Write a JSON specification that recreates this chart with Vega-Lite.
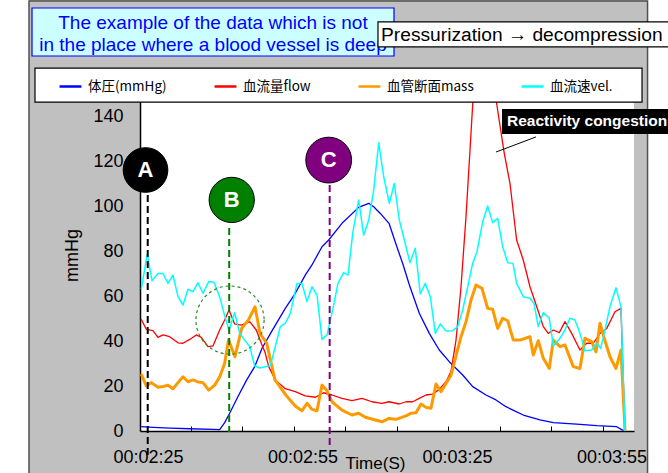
{
  "$schema": "https://vega.github.io/schema/vega-lite/v6.json",
  "autosize": {"type": "none"},
  "width": 494,
  "height": 360,
  "padding": {"left": 140, "top": 71, "right": 34, "bottom": 42},
  "background": "#c0c0c0",
  "config": {
    "view": {"fill": "#ffffff", "stroke": null},
    "font": "Liberation Sans"
  },
  "datasets": {
    "series": [
      {"s":"体圧(mmHg)","t":143.70,"v":1.9},{"s":"体圧(mmHg)","t":145.97,"v":1.6},{"s":"体圧(mmHg)","t":149.3,"v":1.3},{"s":"体圧(mmHg)","t":153.1,"v":1.0},{"s":"体圧(mmHg)","t":157.62,"v":0.7},{"s":"体圧(mmHg)","t":158.92,"v":0.6},{"s":"体圧(mmHg)","t":159.89,"v":3.7},{"s":"体圧(mmHg)","t":160.86,"v":7.9},{"s":"体圧(mmHg)","t":162.48,"v":15.3},{"s":"体圧(mmHg)","t":164.17,"v":22.7},{"s":"体圧(mmHg)","t":165.72,"v":28.6},{"s":"体圧(mmHg)","t":167.14,"v":36.8},{"s":"体圧(mmHg)","t":169.08,"v":44.5},{"s":"体圧(mmHg)","t":171.66,"v":54.5},{"s":"体圧(mmHg)","t":173.60,"v":61.2},{"s":"体圧(mmHg)","t":175.54,"v":69.3},{"s":"体圧(mmHg)","t":176.84,"v":73.8},{"s":"体圧(mmHg)","t":178.79,"v":81.9},{"s":"体圧(mmHg)","t":180.09,"v":84.9},{"s":"体圧(mmHg)","t":182.67,"v":92.3},{"s":"体圧(mmHg)","t":185.91,"v":99.4},{"s":"体圧(mmHg)","t":187.86,"v":101.2},{"s":"体圧(mmHg)","t":188.83,"v":99.7},{"s":"体圧(mmHg)","t":190.11,"v":96.7},{"s":"体圧(mmHg)","t":191.80,"v":92.3},{"s":"体圧(mmHg)","t":193.16,"v":83},{"s":"体圧(mmHg)","t":194.52,"v":74},{"s":"体圧(mmHg)","t":195.74,"v":65},{"s":"体圧(mmHg)","t":197.68,"v":52.3},{"s":"体圧(mmHg)","t":199.62,"v":43.4},{"s":"体圧(mmHg)","t":201.56,"v":36},{"s":"体圧(mmHg)","t":203.50,"v":30.8},{"s":"体圧(mmHg)","t":206.11,"v":24.9},{"s":"体圧(mmHg)","t":208.05,"v":19.7},{"s":"体圧(mmHg)","t":210.63,"v":16},{"s":"体圧(mmHg)","t":212.57,"v":13.8},{"s":"体圧(mmHg)","t":214.51,"v":10.8},{"s":"体圧(mmHg)","t":215.87,"v":9.3},{"s":"体圧(mmHg)","t":217.87,"v":7.1},{"s":"体圧(mmHg)","t":221.11,"v":4.9},{"s":"体圧(mmHg)","t":223.70,"v":3.7},{"s":"体圧(mmHg)","t":228.24,"v":3.1},{"s":"体圧(mmHg)","t":232.13,"v":2.4},{"s":"体圧(mmHg)","t":236.01,"v":1.9},{"s":"体圧(mmHg)","t":236.98,"v":0.6},{"s":"体圧(mmHg)","t":237.62,"v":0},
      {"s":"血流量flow","t":143.70,"v":49.6},{"s":"血流量flow","t":144.67,"v":45.2},{"s":"血流量flow","t":145.97,"v":44.6},{"s":"血流量flow","t":146.94,"v":41.6},{"s":"血流量flow","t":147.91,"v":42.7},{"s":"血流量flow","t":149.21,"v":41.9},{"s":"血流量flow","t":150.83,"v":39.2},{"s":"血流量flow","t":151.80,"v":39},{"s":"血流量flow","t":153.10,"v":40.7},{"s":"血流量flow","t":154.38,"v":42.7},{"s":"血流量flow","t":155.35,"v":41.6},{"s":"血流量flow","t":156.65,"v":37.5},{"s":"血流量flow","t":157.62,"v":37.8},{"s":"血流量flow","t":158.92,"v":44.9},{"s":"血流量flow","t":159.89,"v":49.3},{"s":"血流量flow","t":160.73,"v":53.8},{"s":"血流量flow","t":161.83,"v":47.6},{"s":"血流量flow","t":163.12,"v":47.1},{"s":"血流量flow","t":164.75,"v":48.6},{"s":"血流量flow","t":166.03,"v":44.9},{"s":"血流量flow","t":167.00,"v":39},{"s":"血流量flow","t":167.72,"v":35},{"s":"血流量flow","t":168.44,"v":28.6},{"s":"血流量flow","t":169.72,"v":22.7},{"s":"血流量flow","t":171.66,"v":18.8},{"s":"血流量flow","t":173.60,"v":17.5},{"s":"血流量flow","t":175.54,"v":15.6},{"s":"血流量flow","t":177.49,"v":15},{"s":"血流量flow","t":179.12,"v":17},{"s":"血流量flow","t":180.73,"v":16},{"s":"血流量flow","t":182.67,"v":14.5},{"s":"血流量flow","t":184.61,"v":13.5},{"s":"血流量flow","t":186.55,"v":14.5},{"s":"血流量flow","t":188.50,"v":13},{"s":"血流量flow","t":190.44,"v":12.3},{"s":"血流量flow","t":191.80,"v":13},{"s":"血流量flow","t":193.80,"v":12},{"s":"血流量flow","t":195.10,"v":13},{"s":"血流量flow","t":196.40,"v":13},{"s":"血流量flow","t":197.68,"v":14.5},{"s":"血流量flow","t":198.98,"v":16},{"s":"血流量flow","t":200.28,"v":16.4},{"s":"血流量flow","t":201.56,"v":18.5},{"s":"血流量flow","t":202.86,"v":21.9},{"s":"血流量flow","t":203.83,"v":26.4},{"s":"血流量flow","t":204.81,"v":40.4},{"s":"血流量flow","t":205.78,"v":64.1},{"s":"血流量flow","t":206.75,"v":95.2},{"s":"血流量flow","t":207.72,"v":132.3},{"s":"血流量flow","t":208.69,"v":170},{"s":"血流量flow","t":209.66,"v":195},{"s":"血流量flow","t":210.83,"v":178},{"s":"血流量flow","t":211.80,"v":160},{"s":"血流量flow","t":212.67,"v":146},{"s":"血流量flow","t":214.18,"v":123.4},{"s":"血流量flow","t":215.29,"v":110},{"s":"血流量flow","t":216.58,"v":84.9},{"s":"血流量flow","t":217.87,"v":76},{"s":"血流量flow","t":219.17,"v":64.1},{"s":"血流量flow","t":220.47,"v":55.3},{"s":"血流量flow","t":221.76,"v":46.4},{"s":"血流量flow","t":222.73,"v":43.4},{"s":"血流量flow","t":223.70,"v":44.9},{"s":"血流量flow","t":224.86,"v":43.7},{"s":"血流量flow","t":225.97,"v":48.6},{"s":"血流量flow","t":227.27,"v":43.4},{"s":"血流量flow","t":228.88,"v":36},{"s":"血流量flow","t":230.18,"v":39},{"s":"血流量flow","t":231.47,"v":39},{"s":"血流量flow","t":232.77,"v":43.4},{"s":"血流量flow","t":234.07,"v":45.6},{"s":"血流量flow","t":235.68,"v":53},{"s":"血流量flow","t":236.84,"v":54.5},{"s":"血流量flow","t":237.62,"v":0},
      {"s":"血管断面mass","t":143.70,"v":25.3},{"s":"血管断面mass","t":144.67,"v":20},{"s":"血管断面mass","t":145.64,"v":21.5},{"s":"血管断面mass","t":146.94,"v":19.4},{"s":"血管断面mass","t":147.91,"v":19.8},{"s":"血管断面mass","t":148.88,"v":20.3},{"s":"血管断面mass","t":149.85,"v":18.8},{"s":"血管断面mass","t":150.83,"v":21.5},{"s":"血管断面mass","t":151.80,"v":24.1},{"s":"血管断面mass","t":152.77,"v":21.9},{"s":"血管断面mass","t":153.74,"v":22.7},{"s":"血管断面mass","t":154.71,"v":21.8},{"s":"血管断面mass","t":155.68,"v":21.5},{"s":"血管断面mass","t":156.79,"v":18.2},{"s":"血管断面mass","t":157.95,"v":20.4},{"s":"血管断面mass","t":158.92,"v":24},{"s":"血管断面mass","t":159.89,"v":30.1},{"s":"血管断面mass","t":160.63,"v":40.5},{"s":"血管断面mass","t":161.89,"v":33},{"s":"血管断面mass","t":163.19,"v":45.6},{"s":"血管断面mass","t":164.48,"v":49.3},{"s":"血管断面mass","t":165.78,"v":55.2},{"s":"血管断面mass","t":166.75,"v":43.4},{"s":"血管断面mass","t":168.05,"v":39},{"s":"血管断面mass","t":169.66,"v":22.7},{"s":"血管断面mass","t":171.99,"v":15.3},{"s":"血管断面mass","t":173.60,"v":11.1},{"s":"血管断面mass","t":174.90,"v":9},{"s":"血管断面mass","t":175.87,"v":12.3},{"s":"血管断面mass","t":176.84,"v":9.6},{"s":"血管断面mass","t":177.82,"v":9},{"s":"血管断面mass","t":178.79,"v":20.4},{"s":"血管断面mass","t":179.76,"v":17.9},{"s":"血管断面mass","t":180.73,"v":13},{"s":"血管断面mass","t":182.67,"v":9.3},{"s":"血管断面mass","t":184.61,"v":7.1},{"s":"血管断面mass","t":185.91,"v":7.9},{"s":"血管断面mass","t":187.20,"v":6.1},{"s":"血管断面mass","t":189.14,"v":4.9},{"s":"血管断面mass","t":190.44,"v":4.1},{"s":"血管断面mass","t":191.80,"v":5.6},{"s":"血管断面mass","t":193.16,"v":5.2},{"s":"血管断面mass","t":195.10,"v":6.7},{"s":"血管断面mass","t":196.07,"v":7.9},{"s":"血管断面mass","t":197.04,"v":8.1},{"s":"血管断面mass","t":198.01,"v":12},{"s":"血管断面mass","t":198.98,"v":10.5},{"s":"血管断面mass","t":199.95,"v":10.1},{"s":"血管断面mass","t":200.92,"v":20.9},{"s":"血管断面mass","t":201.89,"v":17.5},{"s":"血管断面mass","t":203.83,"v":24.7},{"s":"血管断面mass","t":205.78,"v":41.9},{"s":"血管断面mass","t":206.75,"v":48.6},{"s":"血管断面mass","t":207.72,"v":58.2},{"s":"血管断面mass","t":208.69,"v":64.9},{"s":"血管断面mass","t":209.85,"v":63.4},{"s":"血管断面mass","t":210.96,"v":54.5},{"s":"血管断面mass","t":211.93,"v":54.1},{"s":"血管断面mass","t":212.90,"v":45.6},{"s":"血管断面mass","t":213.87,"v":50.1},{"s":"血管断面mass","t":214.85,"v":49},{"s":"血管断面mass","t":215.93,"v":40.4},{"s":"血管断面mass","t":217.23,"v":40.4},{"s":"血管断面mass","t":219.17,"v":41.9},{"s":"血管断面mass","t":219.81,"v":33.8},{"s":"血管断面mass","t":220.78,"v":40.1},{"s":"血管断面mass","t":221.76,"v":32.3},{"s":"血管断面mass","t":222.92,"v":27.8},{"s":"血管断面mass","t":223.70,"v":40.4},{"s":"血管断面mass","t":225.00,"v":37.5},{"s":"血管断面mass","t":225.97,"v":38.2},{"s":"血管断面mass","t":227.58,"v":28.6},{"s":"血管断面mass","t":228.88,"v":27.8},{"s":"血管断面mass","t":229.85,"v":41.2},{"s":"血管断面mass","t":231.16,"v":39.7},{"s":"血管断面mass","t":231.99,"v":35.2},{"s":"血管断面mass","t":232.77,"v":47.9},{"s":"血管断面mass","t":233.74,"v":40.1},{"s":"血管断面mass","t":234.71,"v":33},{"s":"血管断面mass","t":235.87,"v":27.8},{"s":"血管断面mass","t":236.84,"v":36},{"s":"血管断面mass","t":237.62,"v":0},
      {"s":"血流速vel.","t":143.70,"v":63},{"s":"血流速vel.","t":144.86,"v":78.7},{"s":"血流速vel.","t":145.78,"v":66.8},{"s":"血流速vel.","t":146.94,"v":70},{"s":"血流速vel.","t":147.91,"v":70},{"s":"血流速vel.","t":148.88,"v":65.6},{"s":"血流速vel.","t":149.85,"v":69.3},{"s":"血流速vel.","t":150.83,"v":59.7},{"s":"血流速vel.","t":151.80,"v":56},{"s":"血流速vel.","t":152.77,"v":63},{"s":"血流速vel.","t":153.74,"v":61.9},{"s":"血流速vel.","t":154.71,"v":65.9},{"s":"血流速vel.","t":155.68,"v":61.2},{"s":"血流速vel.","t":156.79,"v":66.4},{"s":"血流速vel.","t":157.82,"v":66.1},{"s":"血流速vel.","t":158.92,"v":59.7},{"s":"血流速vel.","t":159.76,"v":52.3},{"s":"血流速vel.","t":160.73,"v":44.9},{"s":"血流速vel.","t":161.83,"v":52.6},{"s":"血流速vel.","t":162.81,"v":43.4},{"s":"血流速vel.","t":163.78,"v":40.4},{"s":"血流速vel.","t":164.75,"v":37.5},{"s":"血流速vel.","t":165.72,"v":29},{"s":"血流速vel.","t":166.69,"v":28},{"s":"血流速vel.","t":167.72,"v":28.6},{"s":"血流速vel.","t":168.75,"v":29},{"s":"血流速vel.","t":169.72,"v":37.5},{"s":"血流速vel.","t":170.69,"v":46.4},{"s":"血流速vel.","t":171.66,"v":47.9},{"s":"血流速vel.","t":172.63,"v":52.3},{"s":"血流速vel.","t":173.93,"v":65.6},{"s":"血流速vel.","t":174.90,"v":65.6},{"s":"血流速vel.","t":175.87,"v":57.5},{"s":"血流速vel.","t":176.84,"v":64.1},{"s":"血流速vel.","t":177.82,"v":60.4},{"s":"血流速vel.","t":178.79,"v":40.7},{"s":"血流速vel.","t":179.76,"v":42.7},{"s":"血流速vel.","t":180.86,"v":53.8},{"s":"血流速vel.","t":181.89,"v":65.6},{"s":"血流速vel.","t":183.00,"v":70.4},{"s":"血流速vel.","t":183.83,"v":69.3},{"s":"血流速vel.","t":184.75,"v":87.8},{"s":"血流速vel.","t":185.91,"v":102.7},{"s":"血流速vel.","t":186.88,"v":87.1},{"s":"血流速vel.","t":187.86,"v":93.8},{"s":"血流速vel.","t":188.83,"v":107.1},{"s":"血流速vel.","t":189.80,"v":128.1},{"s":"血流速vel.","t":190.77,"v":113},{"s":"血流速vel.","t":191.86,"v":101.2},{"s":"血流速vel.","t":192.83,"v":110},{"s":"血流速vel.","t":193.80,"v":93.8},{"s":"血流速vel.","t":194.77,"v":84.9},{"s":"血流速vel.","t":195.87,"v":74.8},{"s":"血流速vel.","t":196.90,"v":81.2},{"s":"血流速vel.","t":197.87,"v":60.9},{"s":"血流速vel.","t":198.84,"v":65.6},{"s":"血流速vel.","t":199.82,"v":59.7},{"s":"血流速vel.","t":200.79,"v":43.4},{"s":"血流速vel.","t":201.76,"v":47.6},{"s":"血流速vel.","t":202.86,"v":44.4},{"s":"血流速vel.","t":204.16,"v":44.6},{"s":"血流速vel.","t":205.14,"v":46.4},{"s":"血流速vel.","t":206.11,"v":53.8},{"s":"血流速vel.","t":207.08,"v":64.1},{"s":"血流速vel.","t":208.05,"v":74.5},{"s":"血流速vel.","t":208.88,"v":79.7},{"s":"血流速vel.","t":209.99,"v":93},{"s":"血流速vel.","t":210.96,"v":100},{"s":"血流速vel.","t":211.93,"v":92.6},{"s":"血流速vel.","t":212.90,"v":94.5},{"s":"血流速vel.","t":213.87,"v":81.9},{"s":"血流速vel.","t":214.85,"v":74.8},{"s":"血流速vel.","t":215.87,"v":74.5},{"s":"血流速vel.","t":216.58,"v":65.6},{"s":"血流速vel.","t":217.87,"v":59.7},{"s":"血流速vel.","t":219.17,"v":59},{"s":"血流速vel.","t":219.95,"v":56.7},{"s":"血流速vel.","t":220.78,"v":46.4},{"s":"血流速vel.","t":221.76,"v":52.6},{"s":"血流速vel.","t":222.92,"v":50.1},{"s":"血流速vel.","t":223.70,"v":37.8},{"s":"血流速vel.","t":225.00,"v":41.2},{"s":"血流速vel.","t":225.97,"v":44.9},{"s":"血流速vel.","t":226.94,"v":50.1},{"s":"血流速vel.","t":227.91,"v":49.3},{"s":"血流速vel.","t":228.88,"v":43.4},{"s":"血流速vel.","t":229.85,"v":35.7},{"s":"血流速vel.","t":231.16,"v":36},{"s":"血流速vel.","t":232.13,"v":39},{"s":"血流速vel.","t":232.90,"v":36.7},{"s":"血流速vel.","t":233.74,"v":44.9},{"s":"血流速vel.","t":234.71,"v":55.3},{"s":"血流速vel.","t":235.87,"v":63.7},{"s":"血流速vel.","t":236.84,"v":55.3},{"s":"血流速vel.","t":237.62,"v":0}
    ],
    "one": [{}]
  },
  "layer": [
    {
      "data": {"name": "one"},
      "mark": {"type": "rect", "fill": "#ffffff", "clip": false},
      "encoding": {
        "x": {"datum": 100, "type": "quantitative", "scale": {"domain": [143.45, 239.37], "nice": false, "zero": false}},
        "x2": {"datum": 121.9},
        "y": {"datum": -40, "type": "quantitative"},
        "y2": {"datum": 200}
      }
    },
    {
      "data": {"name": "one"},
      "mark": {"type": "rect", "fill": "#ffffff", "clip": false},
      "encoding": {
        "x": {"datum": 242.0, "type": "quantitative"},
        "x2": {"datum": 260},
        "y": {"datum": -40, "type": "quantitative"},
        "y2": {"datum": 200}
      }
    },
    {
      "data": {"name": "one"},
      "mark": {"type": "rect", "fill": null, "stroke": "#505050", "strokeWidth": 1.5, "clip": false},
      "encoding": {
        "x": {"datum": 121.9, "type": "quantitative"},
        "x2": {"datum": 242.0},
        "y": {"datum": -25, "type": "quantitative"},
        "y2": {"datum": 191.1}
      }
    },
    {
      "data": {"name": "series"},
      "transform": [{"filter": "datum.s === '体圧(mmHg)' || datum.s === '血流量flow'"}],
      "mark": {"type": "line", "clip": true, "strokeJoin": "round", "strokeWidth": 1.3},
      "encoding": {
        "x": {
          "field": "t", "type": "quantitative", "title": "Time(S)",
          "scale": {"domain": [143.45, 239.37], "nice": false, "zero": false},
          "axis": {
            "values": [145, 153.35, 163.35, 173.35, 175, 183.35, 193.35, 203.35, 205, 213.35, 223.35, 233.35, 235],
            "labelExpr": "datum.value % 10 == 5 ? '00:0' + floor(datum.value/60) + ':' + (datum.value % 60 < 10 ? '0' : '') + (datum.value % 60) : ''",
            "labelOverlap": false,
            "labelFontSize": 18, "labelColor": "#000000", "labelFont": "Liberation Sans",
            "labelPadding": 22,
            "tickSize": -5, "tickColor": "#000000", "tickWidth": 1,
            "tickOpacity": {"condition": {"test": "datum.value % 10 == 5", "value": 0}, "value": 1},
            "domainColor": "#000000", "domainWidth": 1.5,
            "grid": false,
            "titleFontSize": 17, "titleFontWeight": "normal", "titleColor": "#000000",
            "titleX": 235, "titleY": 32, "titleBaseline": "middle", "titleAlign": "center"
          }
        },
        "y": {
          "field": "v", "type": "quantitative", "title": "mmHg",
          "scale": {"domain": [0, 160], "nice": false},
          "axis": {
            "values": [0, 20, 40, 60, 80, 100, 120, 140],
            "labelFontSize": 18, "labelColor": "#000000", "labelFont": "Liberation Sans",
            "ticks": false, "labelPadding": 17,
            "domainColor": "#000000", "domainWidth": 1.5,
            "gridColor": "#c4c4c4", "gridWidth": 1.3,
            "titleFontSize": 18, "titleFontWeight": "normal", "titleColor": "#000000",
            "titleX": -68, "titleY": 184, "titleBaseline": "middle", "titleAlign": "center"
          }
        },
        "color": {
          "field": "s", "type": "nominal",
          "scale": {"domain": ["体圧(mmHg)", "血流量flow", "血管断面mass", "血流速vel."], "range": ["#0000ff", "#ff0000", "#ff9900", "#00ffff"]},
          "legend": {
            "title": null, "orient": "none", "direction": "horizontal", "columns": 4,
            "legendX": -82, "legendY": 3,
            "columnPadding": 42, "padding": 0,
            "symbolType": "stroke", "symbolSize": 480, "symbolStrokeWidth": 2.5,
            "labelFont": "Noto Sans CJK JP", "labelFontSize": 13.5, "labelColor": "#000000",
            "labelOffset": 5
          }
        }
      }
    },
    {
      "data": {"name": "series"},
      "transform": [{"filter": "datum.s === '血管断面mass'"}],
      "mark": {"type": "line", "clip": true, "strokeJoin": "round", "strokeWidth": 3},
      "encoding": {
        "x": {"field": "t", "type": "quantitative", "title": "Time(S)"},
        "y": {"field": "v", "type": "quantitative", "title": "mmHg"},
        "color": {"field": "s", "type": "nominal"}
      }
    },
    {
      "data": {"name": "series"},
      "transform": [{"filter": "datum.s === '血流速vel.'"}],
      "mark": {"type": "line", "clip": true, "strokeJoin": "round", "strokeWidth": 1.5},
      "encoding": {
        "x": {"field": "t", "type": "quantitative", "title": "Time(S)"},
        "y": {"field": "v", "type": "quantitative", "title": "mmHg"},
        "color": {"field": "s", "type": "nominal"}
      }
    },
    {
      "data": {"name": "one"},
      "mark": {"type": "rect", "fill": "#ffffff", "stroke": "#000000", "strokeWidth": 1.2, "clip": false},
      "encoding": {
        "x": {"datum": 123.06, "type": "quantitative"},
        "x2": {"datum": 240.93},
        "y": {"datum": 146.2, "type": "quantitative"},
        "y2": {"datum": 161.3}
      }
    },
    {
      "data": {"name": "one"},
      "mark": {"type": "rect", "fill": "#ccffff", "stroke": "#0000ff", "strokeWidth": 1.2, "clip": false},
      "encoding": {
        "x": {"datum": 122.48, "type": "quantitative"},
        "x2": {"datum": 192.77},
        "y": {"datum": 166.67, "type": "quantitative"},
        "y2": {"datum": 188.0}
      }
    },
    {
      "data": {"name": "one"},
      "mark": {"type": "text", "fontSize": 19, "color": "#0000ff", "align": "center", "baseline": "middle", "font": "Liberation Sans", "clip": false},
      "encoding": {
        "x": {"datum": 157.62, "type": "quantitative"},
        "y": {"datum": 181.3, "type": "quantitative"},
        "text": {"value": "The example of the data which is not"}
      }
    },
    {
      "data": {"name": "one"},
      "mark": {"type": "text", "fontSize": 19, "color": "#0000ff", "align": "center", "baseline": "middle", "font": "Liberation Sans", "clip": false},
      "encoding": {
        "x": {"datum": 157.62, "type": "quantitative"},
        "y": {"datum": 171.6, "type": "quantitative"},
        "text": {"value": "in the place where a blood vessel is deep"}
      }
    },
    {
      "data": {"name": "one"},
      "mark": {"type": "rect", "fill": "#ffffff", "stroke": "#000000", "strokeWidth": 1.2, "clip": false},
      "encoding": {
        "x": {"datum": 189.66, "type": "quantitative"},
        "x2": {"datum": 252.2},
        "y": {"datum": 170.7, "type": "quantitative"},
        "y2": {"datum": 181.8}
      }
    },
    {
      "data": {"name": "one"},
      "mark": {"type": "text", "fontSize": 19.2, "color": "#000000", "align": "left", "baseline": "middle", "font": "Liberation Sans", "clip": false},
      "encoding": {
        "x": {"datum": 190.25, "type": "quantitative"},
        "y": {"datum": 176.0, "type": "quantitative"},
        "text": {"value": "Pressurization → decompression"}
      }
    },
    {
      "data": {"name": "one"},
      "mark": {"type": "rect", "fill": "#000000", "clip": false},
      "encoding": {
        "x": {"datum": 213.74, "type": "quantitative"},
        "x2": {"datum": 252.2},
        "y": {"datum": 132.0, "type": "quantitative"},
        "y2": {"datum": 143.1}
      }
    },
    {
      "data": {"name": "one"},
      "mark": {"type": "text", "fontSize": 15.5, "fontWeight": "bold", "color": "#ffffff", "align": "left", "baseline": "middle", "font": "Liberation Sans", "clip": false},
      "encoding": {
        "x": {"datum": 214.71, "type": "quantitative"},
        "y": {"datum": 137.8, "type": "quantitative"},
        "text": {"value": "Reactivity congestion"}
      }
    },
    {
      "data": {"name": "one"},
      "mark": {"type": "rule", "color": "#000000", "strokeWidth": 1},
      "encoding": {
        "x": {"datum": 212.58, "type": "quantitative"},
        "x2": {"datum": 220.34},
        "y": {"datum": 124.0, "type": "quantitative"},
        "y2": {"datum": 130.7}
      }
    },
    {
      "data": {"name": "one"},
      "mark": {"type": "point", "shape": "circle", "filled": false, "stroke": "#2e8b2e", "strokeWidth": 1.2, "strokeDash": [3, 3], "size": 4650, "opacity": 1},
      "encoding": {
        "x": {"datum": 160.93, "type": "quantitative"},
        "y": {"datum": 49.3, "type": "quantitative"}
      }
    },
    {
      "data": {"name": "one"},
      "mark": {"type": "rule", "color": "#000000", "strokeWidth": 2, "strokeDash": [7, 4], "clip": false},
      "encoding": {
        "x": {"datum": 144.95, "type": "quantitative"},
        "y": {"datum": 104.9, "type": "quantitative"},
        "y2": {"datum": -10.7}
      }
    },
    {
      "data": {"name": "one"},
      "mark": {"type": "rule", "color": "#008000", "strokeWidth": 2, "strokeDash": [7, 4], "clip": false},
      "encoding": {
        "x": {"datum": 160.77, "type": "quantitative"},
        "y": {"datum": 90.2, "type": "quantitative"},
        "y2": {"datum": -0.4}
      }
    },
    {
      "data": {"name": "one"},
      "mark": {"type": "rule", "color": "#800080", "strokeWidth": 2, "strokeDash": [7, 4], "clip": false},
      "encoding": {
        "x": {"datum": 180.28, "type": "quantitative"},
        "y": {"datum": 109.3, "type": "quantitative"},
        "y2": {"datum": -7.1}
      }
    },
    {
      "data": {"name": "one"},
      "mark": {"type": "point", "shape": "circle", "filled": true, "fill": "#000000", "stroke": "#000000", "strokeWidth": 1, "size": 2000, "opacity": 1, "clip": false},
      "encoding": {
        "x": {"datum": 144.52, "type": "quantitative"},
        "y": {"datum": 116.0, "type": "quantitative"}
      }
    },
    {
      "data": {"name": "one"},
      "mark": {"type": "point", "shape": "circle", "filled": true, "fill": "#008000", "stroke": "#000000", "strokeWidth": 1, "size": 2050, "opacity": 1},
      "encoding": {
        "x": {"datum": 161.26, "type": "quantitative"},
        "y": {"datum": 102.7, "type": "quantitative"}
      }
    },
    {
      "data": {"name": "one"},
      "mark": {"type": "point", "shape": "circle", "filled": true, "fill": "#800080", "stroke": "#000000", "strokeWidth": 1, "size": 2100, "opacity": 1},
      "encoding": {
        "x": {"datum": 180.09, "type": "quantitative"},
        "y": {"datum": 120.4, "type": "quantitative"}
      }
    },
    {
      "data": {"name": "one"},
      "mark": {"type": "text", "fontSize": 22, "fontWeight": "bold", "color": "#ffffff", "align": "center", "baseline": "middle", "font": "Liberation Sans", "clip": false},
      "encoding": {
        "x": {"datum": 144.52, "type": "quantitative"},
        "y": {"datum": 116.0, "type": "quantitative"},
        "text": {"value": "A"}
      }
    },
    {
      "data": {"name": "one"},
      "mark": {"type": "text", "fontSize": 22, "fontWeight": "bold", "color": "#ffffff", "align": "center", "baseline": "middle", "font": "Liberation Sans"},
      "encoding": {
        "x": {"datum": 161.26, "type": "quantitative"},
        "y": {"datum": 102.7, "type": "quantitative"},
        "text": {"value": "B"}
      }
    },
    {
      "data": {"name": "one"},
      "mark": {"type": "text", "fontSize": 22, "fontWeight": "bold", "color": "#ffffff", "align": "center", "baseline": "middle", "font": "Liberation Sans"},
      "encoding": {
        "x": {"datum": 180.09, "type": "quantitative"},
        "y": {"datum": 120.4, "type": "quantitative"},
        "text": {"value": "C"}
      }
    }
  ]
}
